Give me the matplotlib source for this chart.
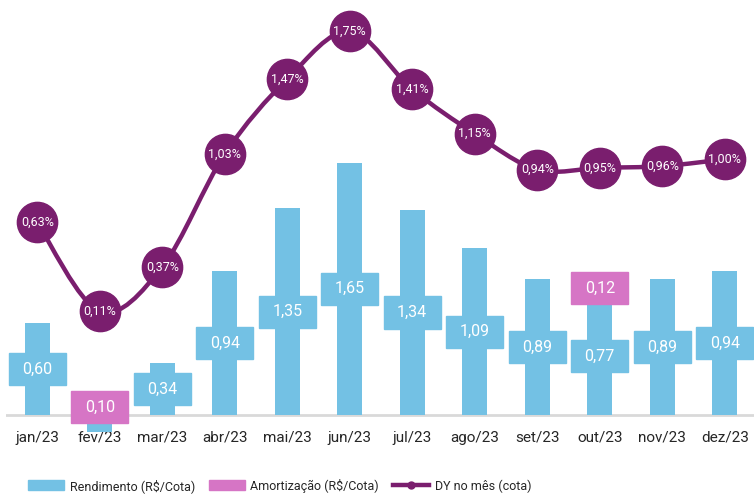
import numpy as np
import matplotlib
matplotlib.use("Agg")
import matplotlib.pyplot as plt
from matplotlib.patches import Rectangle, PathPatch, Patch
from matplotlib.lines import Line2D
from matplotlib.path import Path

months = ["jan/23", "fev/23", "mar/23", "abr/23", "mai/23", "jun/23",
          "jul/23", "ago/23", "set/23", "out/23", "nov/23", "dez/23"]
rendimento = [0.60, -0.11, 0.34, 0.94, 1.35, 1.65, 1.34, 1.09, 0.89, 0.77, 0.89, 0.94]
amortizacao = [0, 0.10, 0, 0, 0, 0, 0, 0, 0, 0.12, 0, 0]
dy = [0.63, 0.11, 0.37, 1.03, 1.47, 1.75, 1.41, 1.15, 0.94, 0.95, 0.96, 1.00]

BLUE = "#73C1E4"
PINK = "#D675C5"
PURPLE = "#7A1E6E"
TXT = "#262626"

plt.rcParams['font.family'] = ['Roboto', 'DejaVu Sans']


def fmt(v, suffix=""):
    return f"{v:.2f}".replace(".", ",") + suffix


def smooth_path(xs, ys):
    # bezier segments, catmull-rom style like the excel smoothed line
    verts = [(xs[0], ys[0])]
    codes = [Path.MOVETO]
    n = len(xs)
    for i in range(n - 1):
        a = i - 1 if i > 0 else i
        b = i + 2 if i + 2 < n else i + 1
        c1 = (xs[i] + (xs[i + 1] - xs[a]) / 6, ys[i] + (ys[i + 1] - ys[a]) / 6)
        c2 = (xs[i + 1] - (xs[b] - xs[i]) / 6, ys[i + 1] - (ys[b] - ys[i]) / 6)
        verts += [c1, c2, (xs[i + 1], ys[i + 1])]
        codes += [Path.CURVE4] * 3
    return Path(verts, codes)


fig = plt.figure(figsize=(7.54, 4.94), dpi=100)
ax = fig.add_axes([6 / 754, 1 - 435 / 494, 750 / 754, 435 / 494])
x = np.arange(len(months))
w = 0.4

ax.bar(x, rendimento, width=w, color=BLUE, zorder=2)
bottoms = [max(r, 0) for r in rendimento]
ax.bar(x, amortizacao, width=w, bottom=bottoms, color=PINK, zorder=2)
ax.axhline(0, color="#D9D9D9", lw=2, zorder=1)

# label boxes (same colour as the bar)
bw, bh = 0.91, 0.21
for i, r in enumerate(rendimento):
    if r > 0:
        ax.add_patch(Rectangle((i - bw / 2, r / 2 - bh / 2), bw, bh, color=BLUE, zorder=3))
        ax.text(i, r / 2, fmt(r), color="white", fontsize=11.5,
                ha="center", va="center", zorder=4)
for i, a in enumerate(amortizacao):
    if a > 0:
        mid = bottoms[i] + a / 2
        ax.add_patch(Rectangle((i - bw / 2, mid - bh / 2), bw, bh, color=PINK, zorder=5))
        ax.text(i, mid, fmt(a), color="white", fontsize=11.5,
                ha="center", va="center", zorder=6)

ax.set_xlim(-0.5, 11.5)
ax.set_ylim(-20 / 153, 415 / 153)
ax.set_yticks([])
ax.set_xticks(x)
ax.set_xticklabels(months, fontsize=11, color=TXT)
ax.tick_params(axis="x", length=0, pad=-3)
for s in ax.spines.values():
    s.set_visible(False)

ax2 = ax.twinx()
ax2.set_ylim(-105 / 170.7, 330 / 170.7)
ax2.add_patch(PathPatch(smooth_path(x, dy), fill=False, edgecolor=PURPLE, lw=3.2,
                        capstyle="round", zorder=2))
ax2.plot(x, dy, "o", color=PURPLE, markersize=29, zorder=3)
for i, v in enumerate(dy):
    ax2.text(i, v, fmt(v, "%"), color="white", fontsize=9,
             ha="center", va="center", zorder=4)
ax2.set_yticks([])
for s in ax2.spines.values():
    s.set_visible(False)

handles = [Patch(color=BLUE), Patch(color=PINK),
           Line2D([], [], color=PURPLE, lw=3.2, marker="o", markersize=5)]
labels = ["Rendimento (R$/Cota)", "Amortização (R$/Cota)", "DY no mês (cota)"]
fig.legend(handles, labels, loc="center left", bbox_to_anchor=(19 / 754, 0.017),
           ncol=3, frameon=False, fontsize=9, handlelength=2.9,
           handleheight=0.9, handletextpad=0.45, columnspacing=1.1,
           labelcolor=TXT, borderpad=0.2)

fig.savefig("out.png", dpi=100)
